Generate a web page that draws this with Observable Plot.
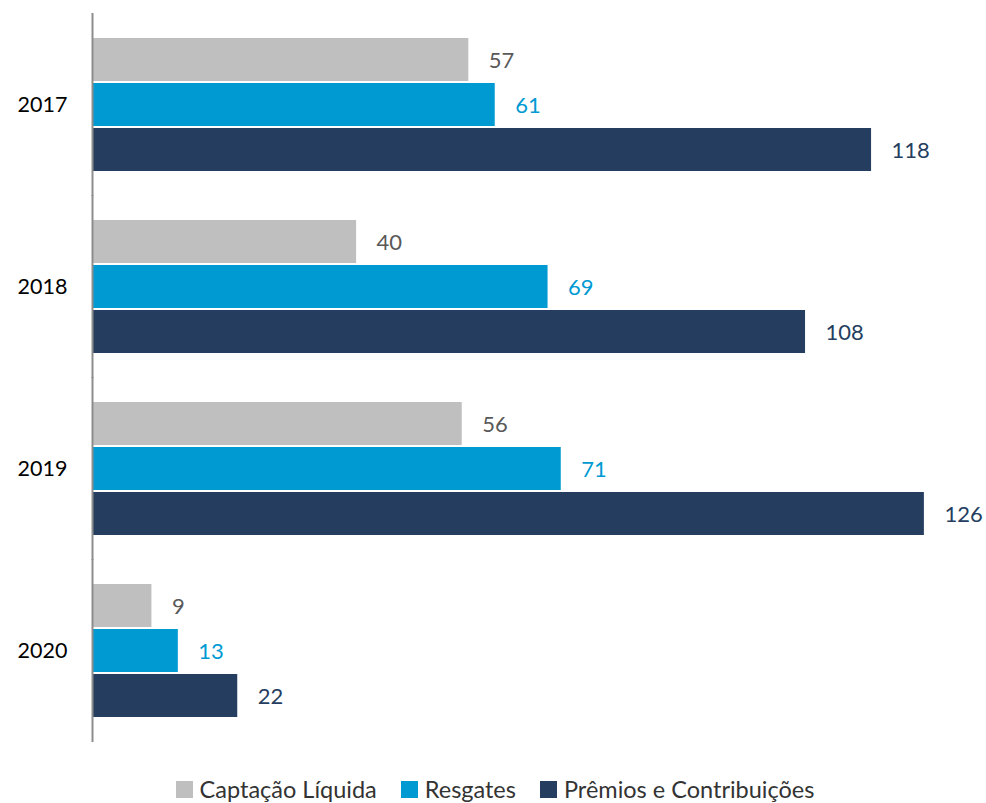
<!DOCTYPE html>
<html>
<head>
<meta charset="utf-8">
<script src="https://cdn.jsdelivr.net/npm/d3@7"></script>
<script src="https://cdn.jsdelivr.net/npm/@observablehq/plot@0.6"></script>
<style>
  body { margin: 0; background: #fff; font-family: Lato, "Open Sans", sans-serif; }
  #chart { width: 986px; }
  .legend { display: flex; justify-content: center; align-items: center; margin-top: 15px; font-size: 23.5px; color: #333; padding-left: 4px; line-height: 28px; }
  .legend span.item { display: inline-flex; align-items: center; margin: 0 12px; }
  .legend i { display: inline-block; width: 17px; height: 17px; margin-right: 7px; }
</style>
</head>
<body>
<div id="chart"></div>
<script>
const years = ["2017", "2018", "2019", "2020"];
const series = ["Captação Líquida", "Resgates", "Prêmios e Contribuições"];
const captacao = [57, 40, 56, 9];
const resgates = [61, 69, 71, 13];
const premios = [118, 108, 126, 22];
const colors = ["#bfbfbf", "#009ad3", "#253e5f"];
const labelColors = ["#595959", "#009ad3", "#253e5f"];

const values = [captacao, resgates, premios];
const data = [];
years.forEach((yr, i) => series.forEach((s, j) => data.push({year: yr, series: s, value: values[j][i]})));

const chart = Plot.plot({
  width: 986,
  height: 760,
  marginLeft: 92,
  marginRight: 6,
  marginTop: 13,
  marginBottom: 18,
  style: {fontFamily: "Lato, 'Open Sans', sans-serif", background: "#fff"},
  x: {domain: [0, 134.5], axis: null},
  y: {domain: series, axis: null, paddingInner: 0.04, paddingOuter: 0},
  fy: {domain: years, axis: "left", label: null, tickSize: 0, tickPadding: 25, paddingInner: 0.26, paddingOuter: 0.13, fontSize: 21.5},
  color: {domain: series, range: colors},
  marks: [
    Plot.barX(data, {x: "value", y: "series", fy: "year", fill: "series"}),
    Plot.text(data, {x: "value", y: "series", fy: "year", text: d => String(d.value), textAnchor: "start", dx: 20, dy: 1, fontSize: 22, fill: d => labelColors[series.indexOf(d.series)]}),
    Plot.ruleX([0], {stroke: "#8c8c8c", strokeWidth: 2, insetTop: -24, insetBottom: -24})
  ]
});
chart.querySelectorAll("g[aria-label='fy-axis tick label']").forEach(el => { el.setAttribute("font-size", "21.5"); el.setAttribute("fill", "#000"); });
document.getElementById("chart").appendChild(chart);

const legend = document.createElement("div");
legend.className = "legend";
series.forEach((s, j) => {
  const item = document.createElement("span");
  item.className = "item";
  const sw = document.createElement("i");
  sw.style.background = colors[j];
  item.appendChild(sw);
  item.appendChild(document.createTextNode(s));
  legend.appendChild(item);
});
document.getElementById("chart").appendChild(legend);
</script>
</body>
</html>
